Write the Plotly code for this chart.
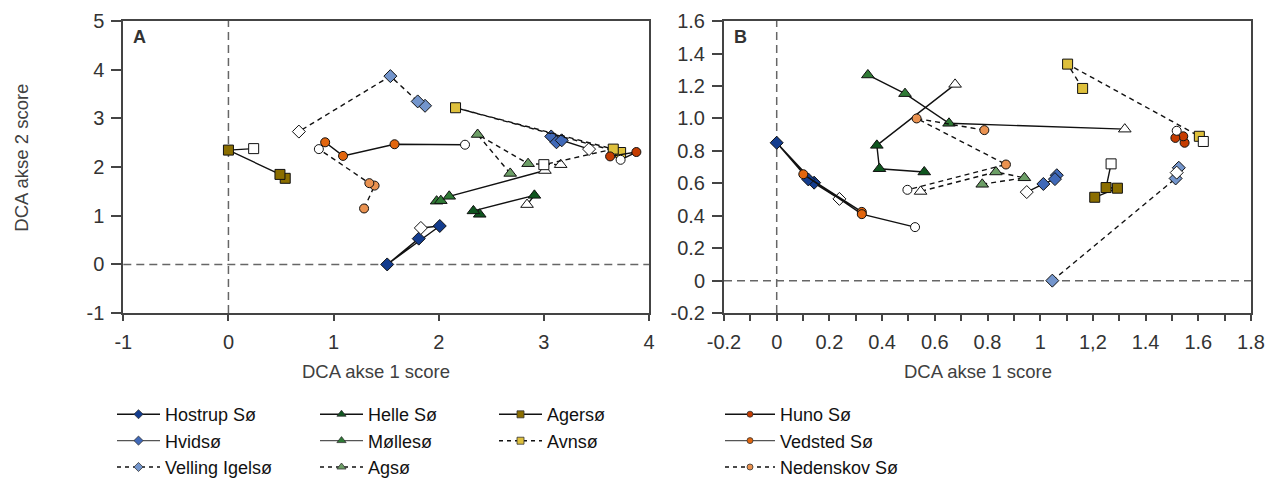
import plotly.graph_objects as go

FONT = "Liberation Sans, Arial, sans-serif"
W, H = 1275, 486

# ---- Panel A: DCA axis 1 / axis 2 scores (last point = open symbol) ----
hostrup_A_x = [1.81, 1.51, 2.01, 1.83]
hostrup_A_y = [0.53, 0.00, 0.79, 0.75]
hvidso_A_x = [3.07, 3.12, 3.17, 3.43]
hvidso_A_y = [2.63, 2.51, 2.55, 2.37]
velling_A_x = [1.87, 1.80, 1.54, 0.67]
velling_A_y = [3.26, 3.35, 3.87, 2.73]
helle_A_x = [2.39, 2.33, 2.91, 2.84]
helle_A_y = [1.03, 1.10, 1.42, 1.23]
mollesø_A_x = [1.98, 2.02, 2.10, 3.01]
mollesø_A_y = [1.30, 1.31, 1.40, 1.93]
agso_A_x = [2.68, 2.37, 2.85, 3.16]
agso_A_y = [1.87, 2.67, 2.07, 2.05]
agerso_A_x = [0.54, 0.49, 0.00, 0.24]
agerso_A_y = [1.77, 1.85, 2.35, 2.38]
avnso_A_x = [3.73, 2.16, 3.66, 3.00]
avnso_A_y = [2.30, 3.22, 2.37, 2.05]
huno_A_x = [3.63, 3.88, 3.73]
huno_A_y = [2.22, 2.31, 2.15]
vedsted_A_x = [0.92, 1.09, 1.58, 2.25]
vedsted_A_y = [2.51, 2.23, 2.47, 2.46]
nedenskov_A_x = [1.29, 1.39, 1.34, 0.86]
nedenskov_A_y = [1.15, 1.62, 1.67, 2.37]

# ---- Panel B ----
hostrup_B_x = [0.142, 0.00, 0.12, 0.238]
hostrup_B_y = [0.604, 0.85, 0.624, 0.504]
hvidso_B_x = [1.063, 1.056, 1.012, 0.949]
hvidso_B_y = [0.65, 0.626, 0.596, 0.546]
velling_B_x = [1.046, 1.514, 1.526, 1.518]
velling_B_y = [0.00, 0.63, 0.696, 0.666]
helle_B_x = [0.56, 0.39, 0.38, 0.677]
helle_B_y = [0.67, 0.69, 0.834, 1.21]
mollesø_B_x = [0.346, 0.487, 0.654, 1.321]
mollesø_B_y = [1.268, 1.153, 0.97, 0.934]
agso_B_x = [0.780, 0.940, 0.832, 0.546]
agso_B_y = [0.594, 0.634, 0.67, 0.55]
agerso_B_x = [1.207, 1.293, 1.25, 1.269]
agerso_B_y = [0.514, 0.57, 0.574, 0.72]
avnso_B_x = [1.161, 1.104, 1.604, 1.619]
avnso_B_y = [1.185, 1.335, 0.89, 0.858]
huno_B_x = [1.548, 1.543, 1.513, 1.518]
huno_B_y = [0.85, 0.89, 0.88, 0.924]
vedsted_B_x = [0.323, 0.101, 0.323, 0.525]
vedsted_B_y = [0.424, 0.656, 0.41, 0.33]
nedenskov_B_x = [0.788, 0.531, 0.870, 0.496]
nedenskov_B_y = [0.928, 1.0, 0.716, 0.56]

# ---- tick labels ----
xA_ticks = [-1, 0, 1, 2, 3, 4]
xA_text = ["-1", "0", "1", "2", "3", "4"]
yA_ticks = [-1, 0, 1, 2, 3, 4, 5]
yA_text = ["-1", "0", "1", "2", "3", "4", "5"]
xB_ticks = [-0.2, 0, 0.2, 0.4, 0.6, 0.8, 1.0, 1.2, 1.4, 1.6, 1.8]
xB_text = ["-0.2", "0", "0.2", "0.4", "0.6", "0.8", "1", "1,2", "1.4", "1.6", "1.8"]
xB_minor = [-0.1, 0.1, 0.3, 0.5, 0.7, 0.9, 1.1, 1.3, 1.5, 1.7]
yB_ticks = [-0.2, 0, 0.2, 0.4, 0.6, 0.8, 1.0, 1.2, 1.4, 1.6]
yB_text = ["-0.2", "0", "0.2", "0.4", "0.6", "0.8", "1.0", "1.2", "1.4", "1.6"]

# ---- lake styling ----
lakes = [
    # name, key, colour, symbol, dashed, legend line colour, legend, rank
    ("Hostrup Sø", "hostrup", "#133C8E", "diamond", False, "#111111", "legend", 1),
    ("Hvidsø", "hvidso", "#4069B8", "diamond", False, "#555555", "legend", 2),
    ("Velling Igelsø", "velling", "#7395CC", "diamond", True, "#111111", "legend", 3),
    ("Helle Sø", "helle", "#0F551F", "triangle-up", False, "#111111", "legend2", 1),
    ("Møllesø", "mollesø", "#2F7A35", "triangle-up", False, "#555555", "legend2", 2),
    ("Agsø", "agso", "#6C9E66", "triangle-up", True, "#111111", "legend2", 3),
    ("Agersø", "agerso", "#8B6E00", "square", False, "#111111", "legend3", 1),
    ("Avnsø", "avnso", "#DEC03C", "square", True, "#111111", "legend3", 2),
    ("Huno Sø", "huno", "#C53C00", "circle", False, "#111111", "legend4", 1),
    ("Vedsted Sø", "vedsted", "#E2660E", "circle", False, "#555555", "legend4", 2),
    ("Nedenskov Sø", "nedenskov", "#EA9250", "circle", True, "#111111", "legend4", 3),
]
sizes = {"diamond": 10, "triangle-up": 11, "square": 10, "circle": 9}

fig = go.Figure()
data = globals()
for name, key, col, sym, dash, lcol, leg, rank in lakes:
    for panel, xa, ya in (("A", "x", "y"), ("B", "x2", "y2")):
        xs = data[f"{key}_{panel}_x"]
        ys = data[f"{key}_{panel}_y"]
        fills = [col] * (len(xs) - 1) + ["white"]
        fig.add_trace(go.Scatter(
            x=xs, y=ys, xaxis=xa, yaxis=ya, mode="lines+markers",
            line=dict(color="#111111", width=1.4, dash="5px,4px" if dash else "solid"),
            marker=dict(symbol=sym, size=sizes[sym], color=fills,
                        line=dict(color="#111111", width=1)),
            showlegend=False, hoverinfo="skip", cliponaxis=False,
        ))
    # legend entry
    fig.add_trace(go.Scatter(
        x=[None], y=[None], xaxis="x", yaxis="y", mode="lines+markers", name=name,
        legend=leg, legendrank=rank,
        line=dict(color=lcol, width=1.4, dash="4px,4px" if dash else "solid"),
        marker=dict(symbol=sym, size=sizes[sym] - 3, color=col,
                    line=dict(color="#333333", width=0.8)),
    ))

# ---- geometry (pixels -> paper) ----
def px(v):
    return v / W

def py(v):
    return 1 - v / H

top, bottom = 21.7, 321.7
axis_common = dict(
    showgrid=False, zeroline=False, showline=True, linecolor="#444444",
    linewidth=2, mirror=True, ticks="outside", tickcolor="#444444", tickwidth=1.5,
    tickfont=dict(family=FONT, size=20, color="#333333"), tickmode="array",
    automargin=False,
)
fig.update_layout(
    template="none",
    width=W, height=H, margin=dict(l=0, r=0, t=0, b=0, pad=0), autosize=False,
    paper_bgcolor="white", plot_bgcolor="white",
    font=dict(family=FONT, size=18, color="#333333"),
    xaxis=dict(domain=[px(123.3), px(649)], range=[-1, 4], tickvals=xA_ticks,
               ticktext=xA_text, ticklen=6, ticklabelstandoff=4, anchor="y", **axis_common),
    yaxis=dict(domain=[py(bottom), py(top)], range=[-1, 5], tickvals=yA_ticks,
               ticktext=yA_text, ticklen=10, ticklabelstandoff=3, anchor="x", **axis_common),
    xaxis2=dict(domain=[px(724), px(1251)], range=[-0.2, 1.8], tickvals=xB_ticks,
                ticktext=xB_text, ticklen=6, ticklabelstandoff=4, anchor="y2",
                minor=dict(tickmode="array", tickvals=xB_minor, ticklen=6,
                           tickcolor="#444444", tickwidth=1.5, ticks="outside"),
                **axis_common),
    yaxis2=dict(domain=[py(bottom), py(top)], range=[-0.2, 1.6], tickvals=yB_ticks,
                ticktext=yB_text, ticklen=10, ticklabelstandoff=3, anchor="x2", **axis_common),
)

# zero reference lines
for xr, yr in (("x", "y"), ("x2", "y2")):
    fig.add_shape(type="line", xref=xr, yref=f"{yr} domain", x0=0, x1=0, y0=0, y1=1,
                  line=dict(color="#666666", width=1.5, dash="8px,5px"), layer="below")
    fig.add_shape(type="line", xref=f"{xr} domain", yref=yr, x0=0, x1=1, y0=0, y1=0,
                  line=dict(color="#666666", width=1.5, dash="8px,5px"), layer="below")

# panel letters and axis titles
ann = [
    dict(text="<b>A</b>", x=px(131), y=py(38), xanchor="left", yanchor="middle",
         font=dict(size=18, color="#333333")),
    dict(text="<b>B</b>", x=px(732), y=py(38), xanchor="left", yanchor="middle",
         font=dict(size=18, color="#333333")),
    dict(text="DCA akse 1 score", x=px(376), y=py(382), xanchor="center", yanchor="middle",
         font=dict(size=18.5, color="#404040")),
    dict(text="DCA akse 1 score", x=px(978), y=py(382), xanchor="center", yanchor="middle",
         font=dict(size=18.5, color="#404040")),
    dict(text="DCA akse 2 score", x=px(22), y=py(162), xanchor="center", yanchor="middle",
         textangle=-90, font=dict(size=18.5, color="#404040")),
]
for a in ann:
    fig.add_annotation(xref="paper", yref="paper", showarrow=False, **a)

# legends: four columns
leg_common = dict(orientation="v", xanchor="left", yanchor="top", bgcolor="rgba(0,0,0,0)",
                  borderwidth=0, font=dict(family=FONT, size=18, color="#111111"),
                  tracegroupgap=0, itemclick=False, itemdoubleclick=False)
fig.update_layout(
    legend=dict(x=px(112), y=py(407), itemwidth=43, **leg_common),
    legend2=dict(x=px(315), y=py(407), itemwidth=43, **leg_common),
    legend3=dict(x=px(494), y=py(407), itemwidth=43, **leg_common),
    legend4=dict(x=px(720), y=py(407), itemwidth=50, **leg_common),
)

fig.write_html("out.html")
